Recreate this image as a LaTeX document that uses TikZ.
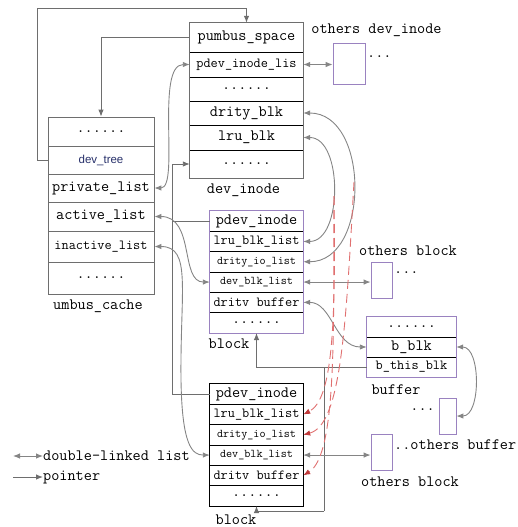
\documentclass[tikz,border=0pt]{standalone}
\usepackage{fontspec}
\setsansfont{Liberation Sans}
\usepackage{tikz}
\usetikzlibrary{arrows.meta,positioning}
\definecolor{linegray}{HTML}{6E6E6E}
\definecolor{curvegray}{HTML}{858585}
\definecolor{boxpurple}{HTML}{9A82C0}
\definecolor{dashred}{HTML}{E07070}
\definecolor{tipred}{HTML}{C03A3A}
\definecolor{treeblue}{HTML}{27306A}
\newcommand{\monobig}{\ttfamily\fontsize{15.8}{17}\selectfont}
\newcommand{\monomid}{\ttfamily\fontsize{13.9}{15}\selectfont}
\newcommand{\monosml}{\ttfamily\fontsize{11.8}{13}\selectfont}
\tikzset{
  icell/.style={rectangle, inner sep=0pt,
               minimum width=113pt, minimum height=#1, font=\monobig},
  ccell/.style={rectangle, draw=linegray, line width=0.8pt, inner sep=0pt,
               minimum width=106pt, minimum height=#1, font=\monobig},
  kcell/.style={rectangle, inner sep=0pt,
               minimum width=93pt, minimum height=20.3pt, font=\monomid},
  fcell/.style={rectangle, inner sep=0pt,
               minimum width=89pt, minimum height=20pt, font=\monobig},
  obox/.style={rectangle, draw=boxpurple, line width=0.8pt, inner sep=0pt},
  lbl/.style={font=\monobig, inner sep=0pt},
  sep/.style={line width=0.8pt, black},
  tarr/.style={-{Latex[length=7pt,width=5.5pt]}, line width=0.9pt, color=linegray},
  tline/.style={line width=0.9pt, color=linegray},
  tlink/.style={{Latex[length=7pt,width=5.5pt]}-{Latex[length=7pt,width=5.5pt]},
               line width=0.9pt, color=curvegray},
  tdash/.style={-{Latex[length=7pt,width=5.5pt,color=tipred]}, dash pattern=on 9pt off 5pt,
               line width=0.9pt, color=dashred},
}
\begin{document}
\begin{tikzpicture}[x=1pt, y=-1pt]
  \useasboundingbox (0,0) rectangle (518,527);

  % umbus_cache
  \node[ccell=29pt] (c1) at (101,131.5) {......};
  \node[ccell=28pt, font=\sffamily\fontsize{11.5}{13}\selectfont, text=treeblue] (c2) at (101,160) {dev\_tree};
  \node[ccell=28pt] (c3) at (101,188) {private\_list};
  \node[ccell=29pt] (c4) at (101,216.5) {active\_list};
  \node[ccell=31pt, font=\monomid] (c5) at (101,246.5) {inactive\_list};
  \node[ccell=32pt] (c6) at (101,278) {......};
  \node[lbl] (cachelbl) at (98,306) {umbus\_cache};

  % dev_inode
  \node[icell=29pt] (di1) at (246.5,37.5) {pumbus\_space};
  \node[icell=25pt, font=\monomid] (di2) at (246.5,64.5) {pdev\_inode\_lis};
  \node[icell=24pt] (di3) at (246.5,89) {......};
  \node[icell=24pt] (di4) at (246.5,113) {drity\_blk};
  \node[icell=25pt] (di5) at (246.5,137.5) {lru\_blk};
  \node[icell=28pt] (di6) at (246.5,164) {......};
  \foreach \r in {di1,di2,di3,di4,di5}
    \draw[sep] (\r.south west) -- (\r.south east);
  \draw[line width=1pt, linegray] (di1.north west) rectangle (di6.south east);
  \node[lbl] (dilbl) at (243.5,190) {dev\_inode};

  \node[obox, minimum width=32pt, minimum height=41pt] (od) at (349,63.5) {};
  \node[lbl, anchor=west] (oddots) at (367,57) {...};
  \node[lbl] (odlbl) at (376.5,30) {others dev\_inode};

  % block 1
  \node[kcell, font=\monobig] (p1) at (256.5,221.15) {pdev\_inode};
  \node[kcell] (p2) at (256.5,241.45) {lru\_blk\_list};
  \node[kcell, font=\monosml] (p3) at (256.5,261.75) {drity\_io\_list};
  \node[kcell, font=\monosml] (p4) at (256.5,282.05) {dev\_blk\_list};
  \node[kcell] (p5) at (256.5,302.35) {dritv buffer};
  \node[kcell, font=\monobig] (p6) at (256.5,322.65) {......};
  \foreach \r in {p1,p2,p3,p4,p5}
    \draw[sep] (\r.south west) -- (\r.south east);
  \draw[line width=1pt, boxpurple] (p1.north west) rectangle (p6.south east);
  \node[lbl] (p1lbl) at (229,344) {block};

  \node[obox, minimum width=21pt, minimum height=36pt] (ob1) at (381.5,280) {};
  \node[lbl, anchor=west] (ob1dots) at (394,273) {...};
  \node[lbl] (ob1lbl) at (408,251) {others block};

  % block 2
  \node[kcell, font=\monobig] (q1) at (256.5,394.15) {pdev\_inode};
  \node[kcell] (q2) at (256.5,414.45) {lru\_blk\_list};
  \node[kcell, font=\monosml] (q3) at (256.5,434.75) {drity\_io\_list};
  \node[kcell, font=\monosml] (q4) at (256.5,455.05) {dev\_blk\_list};
  \node[kcell] (q5) at (256.5,475.35) {dritv buffer};
  \node[kcell, font=\monobig] (q6) at (256.5,495.65) {......};
  \foreach \r in {q1,q2,q3,q4,q5}
    \draw[sep] (\r.south west) -- (\r.south east);
  \draw[line width=1pt, black] (q1.north west) rectangle (q6.south east);
  \node[lbl] (q1lbl) at (236,520) {block};

  \node[obox, minimum width=21pt, minimum height=36pt] (ob2) at (381.5,452) {};
  \node[lbl, anchor=west] (ob2lbl) at (394,445) {..others buffer};
  \node[lbl] (ob2blk) at (410,482) {others block};

  % buffer
  \node[fcell] (f1) at (411.5,327) {......};
  \node[fcell] (f2) at (411.5,347) {b\_blk};
  \node[fcell, font=\monomid] (f3) at (411.5,367) {b\_this\_blk};
  \foreach \r in {f1,f2}
    \draw[sep] (\r.south west) -- (\r.south east);
  \draw[line width=1pt, boxpurple] (f1.north west) rectangle (f3.south east);
  \node[lbl] (flbl) at (396,390) {buffer};

  \node[obox, minimum width=17pt, minimum height=36pt] (obuf) at (447.5,416) {};
  \node[lbl, anchor=east] (obufdots) at (435,410) {...};

  % pointers
  \coordinate (tl) at (37,8);
  \draw[tarr] (c2.west) -| (tl) -| (di1.north);
  \draw[tarr] (di1.west) -| (c1.north);
  \coordinate (jn) at (172,221.15);
  \draw[tarr] (p1.west) -- (jn) |- (di6.west);
  \draw[tline] (q1.west) -| (jn);
  \draw[tarr] (f3.west) -| (p6.south);
  \coordinate (jb) at (324,367);
  \coordinate (jc) at (324,511);
  \draw[tline] (jb) -- (jc);
  \draw[tarr] (jc) -| (q6.south);

  % double links
  \draw[tlink] (c3.east) .. controls (180,188) and (155,64.5) .. (di2.west);
  \draw[tlink] (di2.east) -- (di2.east -| od.west);
  \draw[tlink] (c4.east) .. controls (195,216.5) and (180,282.05) .. (p4.west);
  \draw[tlink] (c5.east) .. controls (192,246.5) and (180,290) .. (181,380)
                         .. controls (182,445) and (192,455.05) .. (q4.west);
  \draw[tlink] (p4.east) -- (p4.east -| ob1.west);
  \draw[tlink] (q4.east) -- (q4.east -| ob2.west);
  \draw[tlink] (p5.east) .. controls (332,302.35) and (335,347) .. (f2.west);
  \draw[tlink] (f2.east) .. controls (481,347) and (481,416) .. (obuf.east);
  \draw[tlink] (di4.east) .. controls (370,113) and (370,261.75) .. (p3.east);
  \draw[tlink] (di5.east) .. controls (343,137.5) and (343,241.45) .. (p2.east);

  % dirty links
  \coordinate (rd1) at (334,196);
  \coordinate (rd2) at (354,182);
  \draw[tdash] (rd1) .. controls (336,330) and (332,400) .. (q2.east);
  \draw[tdash] (rd2) .. controls (346,320) and (342,425) .. (q3.east);
  \draw[tdash] (rd1) .. controls (333,320) and (338,455) .. (q5.east);

  % legend
  \coordinate (lga) at (13,456);
  \node[lbl, anchor=west] (lgdl) at (43,456) {double-linked list};
  \draw[tlink] (lga) -- (lgdl.west);
  \coordinate (lgb) at (13,477);
  \node[lbl, anchor=west] (lgptr) at (43,477) {pointer};
  \draw[tarr] (lgb) -- (lgptr.west);
\end{tikzpicture}
\end{document}
